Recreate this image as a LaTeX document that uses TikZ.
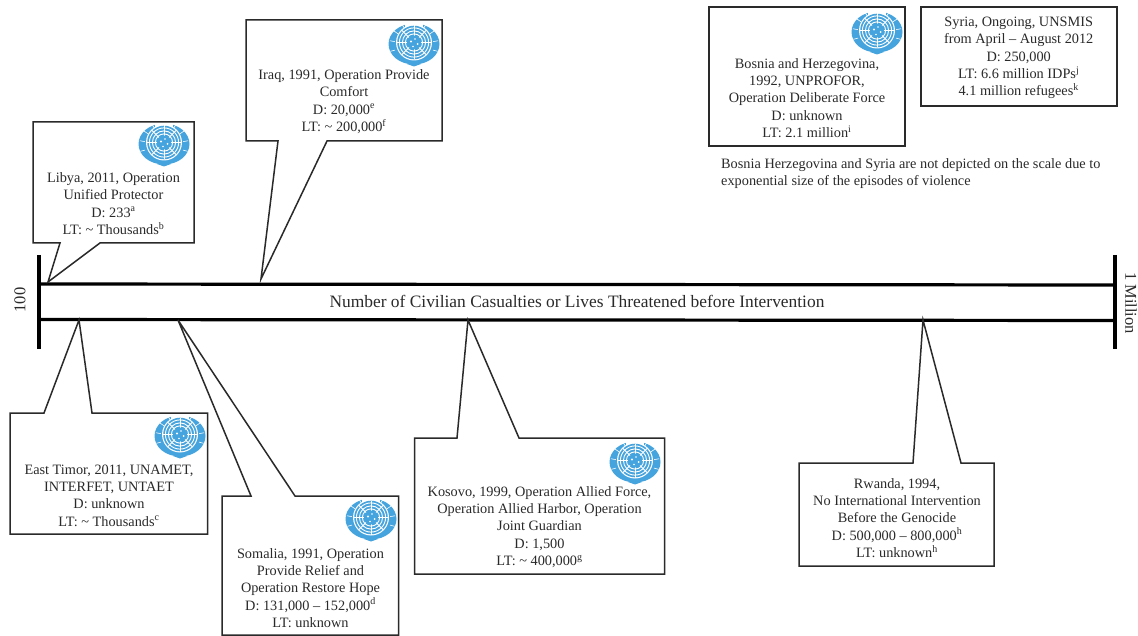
\documentclass[tikz,border=0pt]{standalone}
\usepackage{fontspec}
\setmainfont{Liberation Serif}
\definecolor{unblue}{HTML}{45A3DE}
\definecolor{ink}{HTML}{2A2A2A}
\newcommand{\unlogo}[2]{%
\begin{scope}[shift={(#1,#2)}]
\fill[unblue] (0,-1) ellipse (25.5 and 20.5);
\fill[unblue] (-7,19) -- (0,21.5) -- (7,19) -- cycle;
\fill[white] (-9,-22) rectangle (9,-15);
\fill[white] (0,-2.5) circle (18);
\fill[unblue] (0,-2.5) circle (16.8);
\foreach \r in {14.6,11.6,8.6}{\draw[white,line width=.9pt] (0,-2.5) circle (\r);}
\foreach \a in {0,45,90,135,180,225,270,315}{\draw[white,line width=.9pt] ([shift={(0,-2.5)}]\a:6) -- ([shift={(0,-2.5)}]\a:17);}
\fill[unblue] (0,-2.5) circle (7);
\fill[white] (-3,-3.5) circle (1.2) (3.5,-1) circle (1) (1,-6) circle (.9) (-1,1.5) circle (.8);
\foreach \a in {165,190,215,240,15,-10,-35,-60}{\draw[white,line width=.6pt] (\a:19.5) -- (\a:24.5);}
\end{scope}}
\tikzset{
  x=1pt,y=-1pt,
  callout/.style={draw=ink,line width=1.5pt,line join=miter,fill=white},
  axisline/.style={draw=black,line width=3.2pt},
  btext/.style={align=center,font=\fontsize{14.3}{17.3}\selectfont,text=ink,inner sep=0pt},
  flat/.style={align=left,font=\fontsize{14.3}{17.4}\selectfont,text=ink,inner sep=0pt},
  scaletext/.style={font=\fontsize{17.4}{20}\selectfont,text=ink,inner sep=0pt}
}
\begin{document}
\begin{tikzpicture}
\useasboundingbox (0,0) rectangle (1138,636);
\fill[white] (0,0) rectangle (1138,636);
% axis
\coordinate (tl) at (39,284); \coordinate (tr) at (1115,285);
\coordinate (bl) at (39,319.5); \coordinate (br) at (1115,320.5);
\coordinate (lt) at (39,255); \coordinate (lb) at (39,349);
\coordinate (rt) at (1115,255); \coordinate (rb) at (1115,349);
\draw[axisline] (tl) -- (tr);
\draw[axisline] (bl) -- (br);
\draw[axisline] (lt) -- (lb);
\draw[axisline] (rt) -- (rb);
\node[scaletext] (scale) at (577,301) {Number of Civilian Casualties or Lives Threatened before Intervention};
\node[scaletext,rotate=90,font=\fontsize{16.5}{18}\selectfont] (hundred) at (20,300) {100};
\node[scaletext,rotate=-90,font=\fontsize{16.5}{18}\selectfont] (million) at (1131,303) {1 Million};
% callouts
\draw[callout] (33,122) -- (194,122) -- (194,243) -- (100,243) -- (48,282) -- (60,243) -- (33,243) -- cycle;
\draw[callout] (246,20) -- (442,20) -- (442,141) -- (327,141) -- (261,279) -- (278,141) -- (246,141) -- cycle;
\draw[callout] (10,413) -- (44,413) -- (79,320) -- (92,413) -- (207.5,413) -- (207.5,534) -- (10,534) -- cycle;
\draw[callout] (222,496) -- (251,496) -- (178,320) -- (295,496) -- (398.5,496) -- (398.5,635) -- (222,635) -- cycle;
\draw[callout] (414.5,438) -- (457,438) -- (468,320) -- (519,438) -- (664.5,438) -- (664.5,574) -- (414.5,574) -- cycle;
\draw[callout] (799,463) -- (913,463) -- (923,320) -- (961,463) -- (994,463) -- (994,566) -- (799,566) -- cycle;
\draw[callout] (709,7) rectangle (905,146);
\draw[callout] (921,7) rectangle (1117,106);
% logos
\unlogo{164}{145}
\unlogo{414}{45}
\unlogo{877}{33}
\unlogo{180}{437}
\unlogo{371}{520}
\unlogo{635}{463}
% texts
\node[btext] (libya) at (113.5,203.5) {Libya, 2011, Operation\\Unified Protector\\D: 233\textsuperscript{a}\\LT: \textasciitilde{} Thousands\textsuperscript{b}};
\node[btext] (iraq) at (344,101.5) {Iraq, 1991, Operation Provide\\Comfort\\D: 20,000\textsuperscript{e}\\LT: \textasciitilde{} 200,000\textsuperscript{f}};
\node[btext] (bosnia) at (807,98) {Bosnia and Herzegovina,\\1992, UNPROFOR,\\Operation Deliberate Force\\D: unknown\\LT: 2.1 million\textsuperscript{i}};
\node[btext] (syria) at (1018.7,58) {Syria, Ongoing, UNSMIS\\from April – August 2012\\D: 250,000\\LT: 6.6 million IDPs\textsuperscript{j}\\4.1 million refugees\textsuperscript{k}};
\node[flat,anchor=west] (note) at (721,173.5) {Bosnia Herzegovina and Syria are not depicted on the scale due to\\exponential size of the episodes of violence};
\node[btext] (timor) at (109,495.5) {East Timor, 2011, UNAMET,\\INTERFET, UNTAET\\D: unknown\\LT: \textasciitilde{} Thousands\textsuperscript{c}};
\node[btext] (somalia) at (310.5,588) {Somalia, 1991, Operation\\Provide Relief and\\Operation Restore Hope\\D: 131,000 – 152,000\textsuperscript{d}\\LT: unknown};
\node[btext] (kosovo) at (539.5,527) {Kosovo, 1999, Operation Allied Force,\\Operation Allied Harbor, Operation\\Joint Guardian\\D: 1,500\\LT: \textasciitilde{} 400,000\textsuperscript{g}};
\node[btext] (rwanda) at (897,518) {Rwanda, 1994,\\No International Intervention\\Before the Genocide\\D: 500,000 – 800,000\textsuperscript{h}\\LT: unknown\textsuperscript{h}};
\end{tikzpicture}
\end{document}
